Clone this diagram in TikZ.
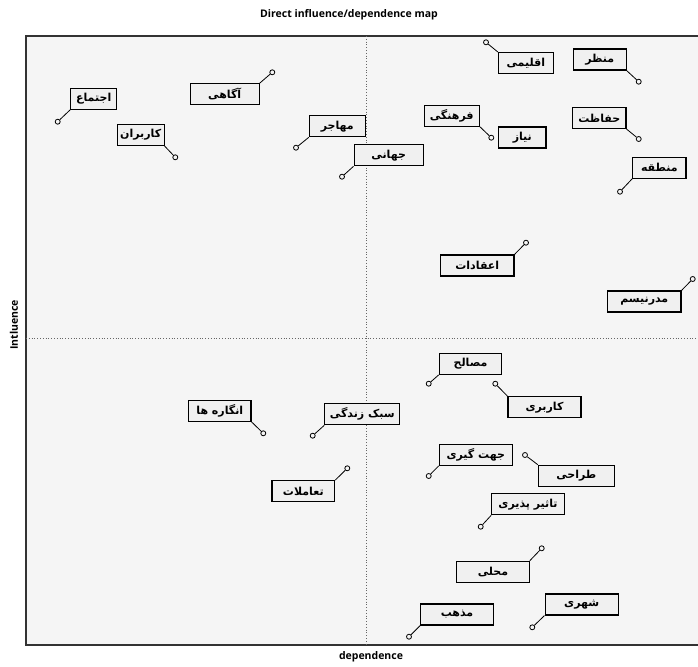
\documentclass[tikz,border=0pt]{standalone}
\usepackage{fontspec}
\setmainfont{Open Sans}
\newfontfamily\arabicfont[Script=Arabic]{DejaVu Sans}
\TeXXeTstate=1
\definecolor{plotbg}{HTML}{F5F5F5}
\definecolor{boxbg}{HTML}{F0F0F0}
\definecolor{framec}{HTML}{333333}
\tikzset{
  lbl/.style={draw=black, line width=1.1pt, fill=boxbg, minimum height=21pt, inner sep=1pt, font=\arabicfont\bfseries\fontsize{11}{13}\selectfont},
  pin/.style={circle, draw=black, line width=0.8pt, fill=plotbg, minimum size=5pt, inner sep=0pt},
  lead/.style={line width=0.8pt, black},
  axislbl/.style={font=\fontsize{10.5}{12}\selectfont\bfseries}
}
\newcommand\lab[7]{% name, x, y, width, text, anchor, circle pos
  \node[lbl, minimum width=#4pt] (#1) at (#2,#3) {#5};
  \node[pin] (#1p) at (#7) {};
  \draw[lead] (#1.#6) -- (#1p);
}
\begin{document}
\begin{tikzpicture}[x=1pt,y=-1pt]
\useasboundingbox (0,0) rectangle (698,666);
\fill[white] (0,0) rectangle (698,666);
\fill[plotbg] (26,36) rectangle (700,645);
\draw[framec, line width=1.3pt] (700,36) -- (26,36) -- (26,645) -- (700,645);
\draw[gray!80!black, dotted, line width=0.8pt] (366,36) -- (366,645);
\draw[gray!80!black, dotted, line width=0.8pt] (26,338) -- (698,338);
\node[axislbl] (title) at (349,15) {Direct influence/dependence map};
\node[axislbl] (xlab) at (371,657) {dependence};
\node[axislbl, rotate=90] (ylab) at (14,325) {Intluence};

\lab{a1}{93.7}{98.8}{46}{\beginR اجتماع\endR}{south west}{57.7,121.7}
\lab{a2}{224.7}{94.2}{69}{\beginR آگاهی\endR}{north east}{272.3,72.3}
\lab{a3}{140.7}{135}{46.7}{\beginR کاربران\endR}{south east}{175.3,157.3}
\lab{a4}{337.3}{126.3}{56}{\beginR مهاجر\endR}{south west}{296,147.7}
\lab{a5}{388.7}{155.3}{69.3}{\beginR جهانی\endR}{south west}{342,176.7}
\lab{a6}{525.8}{63}{55}{\beginR اقلیمی\endR}{north west}{486,42.3}
\lab{a7}{599.7}{59.5}{52.7}{\beginR منظر\endR}{south east}{638.7,81.7}
\lab{a8}{451.7}{115.7}{55.3}{\beginR فرهنگی\endR}{south east}{491.3,137.7}
\node[lbl, minimum width=47.3pt] (a9) at (522.3,137.5) {\beginR نیاز\endR};
\lab{a10}{599.3}{118}{53.3}{\beginR حفاظت\endR}{south east}{638.7,139}
\lab{a11}{659.3}{167.8}{53.3}{\beginR منطقه\endR}{south west}{620,191.7}
\lab{a12}{477.3}{265.5}{73.3}{\beginR اعقادات\endR}{north east}{526,242.7}
\lab{a13}{644.3}{301.5}{73.3}{\beginR مدرنیسم\endR}{north east}{692.7,279}
\lab{a14}{219.8}{410.8}{62.3}{\beginR انگاره ها\endR}{south east}{263.3,433.3}
\lab{a15}{362.3}{414.3}{75}{\beginR سبک زندگی\endR}{south west}{312.7,435.7}
\lab{a16}{303.3}{491.2}{62.7}{\beginR تعاملات\endR}{north east}{347.3,468.3}
\lab{a17}{470.5}{363.8}{62.4}{\beginR مصالح\endR}{south west}{428.7,383.7}
\lab{a18}{544.5}{407.2}{73}{\beginR کاربری\endR}{north west}{495.3,383.7}
\lab{a19}{475.8}{454.8}{73}{\beginR جهت گیری\endR}{south west}{428.7,476}
\lab{a20}{576.3}{475.7}{76}{\beginR طراحی\endR}{north west}{525,455}
\lab{a21}{528}{504.3}{72.6}{\beginR تاثیر پذیری\endR}{south west}{480.7,526.7}
\lab{a22}{493}{571.7}{72.6}{\beginR محلی\endR}{north east}{541.7,548.3}
\lab{a23}{457}{614.5}{72.6}{\beginR مذهب\endR}{south west}{409,636.7}
\lab{a24}{581.7}{604.5}{73.3}{\beginR شهری\endR}{south west}{532.3,627.3}
\end{tikzpicture}
\end{document}
